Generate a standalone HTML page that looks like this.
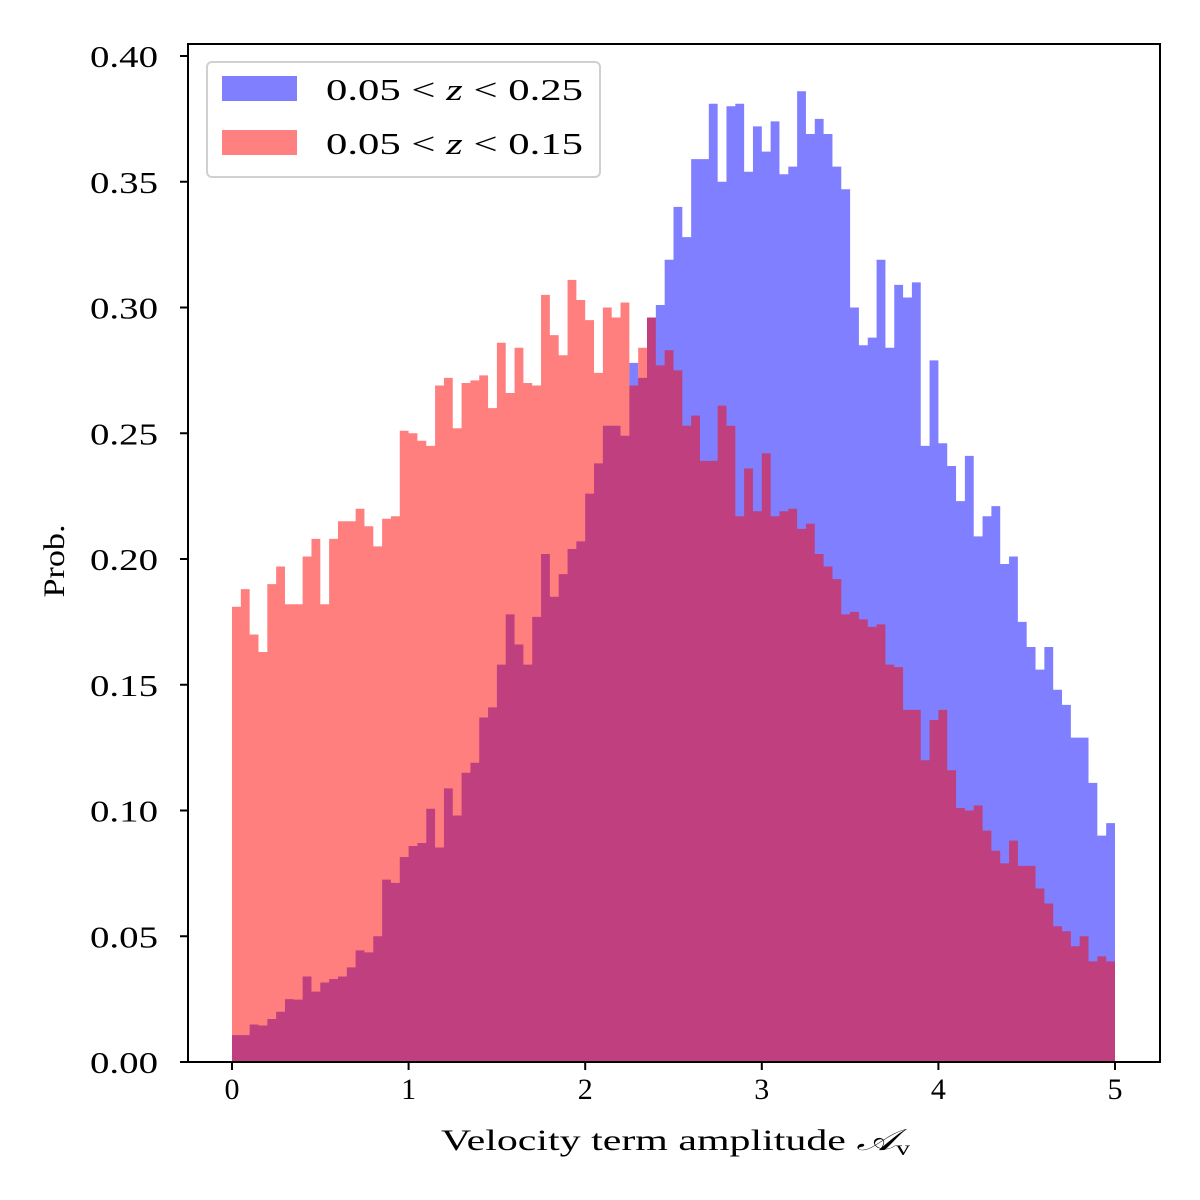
<!DOCTYPE html>
<html><head><meta charset="utf-8"><style>
body{margin:0;background:#fff;}
svg{display:block;font-family:"Liberation Serif","DejaVu Serif",serif;}
</style></head><body>
<svg id="chart" width="1200" height="1200" viewBox="0 0 1200 1200"></svg>
<script>
const binEdges0 = 0, binWidth = 0.05;
const blueValues = [0.0107,0.0107,0.0149,0.0145,0.0171,0.020,0.025,0.0248,0.034,0.028,0.0316,0.033,0.034,0.0376,0.0444,0.0436,0.050,0.0725,0.0712,0.0815,0.0859,0.0871,0.1007,0.0853,0.1088,0.098,0.115,0.119,0.137,0.141,0.158,0.178,0.166,0.158,0.177,0.202,0.185,0.194,0.204,0.207,0.226,0.238,0.253,0.253,0.249,0.278,0.272,0.296,0.301,0.319,0.340,0.328,0.359,0.359,0.381,0.350,0.380,0.381,0.354,0.372,0.362,0.374,0.353,0.356,0.386,0.369,0.375,0.369,0.356,0.347,0.300,0.285,0.288,0.319,0.284,0.309,0.304,0.310,0.245,0.279,0.246,0.237,0.223,0.241,0.209,0.217,0.221,0.198,0.201,0.175,0.165,0.156,0.165,0.148,0.142,0.129,0.129,0.111,0.090,0.095];
const redValues = [0.181,0.188,0.170,0.163,0.190,0.197,0.182,0.182,0.201,0.208,0.182,0.208,0.215,0.215,0.220,0.213,0.205,0.216,0.217,0.251,0.250,0.247,0.245,0.269,0.272,0.252,0.270,0.271,0.273,0.260,0.286,0.266,0.284,0.270,0.269,0.305,0.289,0.281,0.311,0.303,0.295,0.274,0.300,0.296,0.302,0.269,0.284,0.296,0.277,0.283,0.275,0.253,0.257,0.239,0.239,0.261,0.253,0.217,0.236,0.219,0.242,0.217,0.219,0.220,0.212,0.214,0.202,0.197,0.192,0.178,0.179,0.176,0.173,0.174,0.158,0.157,0.140,0.140,0.120,0.136,0.140,0.116,0.101,0.100,0.102,0.092,0.084,0.079,0.088,0.078,0.078,0.069,0.063,0.054,0.052,0.046,0.050,0.040,0.042,0.040];
const xTicks = [0,1,2,3,4,5];
const yTicks = [0,0.05,0.10,0.15,0.20,0.25,0.30,0.35,0.40];
const yTickLabels = ["0.00","0.05","0.10","0.15","0.20","0.25","0.30","0.35","0.40"];

const NS = "http://www.w3.org/2000/svg";
const svg = document.getElementById('chart');
const X0 = 232, X5 = 1115, Y0 = 1062, Y40 = 56;
const xs = v => X0 + (X5 - X0) * v / 5;
const ys = v => Y0 - (Y0 - Y40) * v / 0.4;
function mk(tag, attrs, parent){const e=document.createElementNS(NS,tag);for(const k in attrs)e.setAttribute(k,attrs[k]);(parent||svg).appendChild(e);return e;}

function histPath(vals){
  let d = 'M' + xs(binEdges0) + ' ' + Y0;
  vals.forEach((v,i)=>{
    const x1=xs(binEdges0+i*binWidth), x2=xs(binEdges0+(i+1)*binWidth);
    d += ' L' + x1 + ' ' + ys(v) + ' L' + x2 + ' ' + ys(v);
  });
  d += ' L' + xs(binEdges0+vals.length*binWidth) + ' ' + Y0 + ' Z';
  return d;
}
const pBlue = mk('path',{d:histPath(blueValues),fill:'#0000ff','fill-opacity':0.5});


const pRed = mk('path',{d:histPath(redValues),fill:'#ff0000','fill-opacity':0.5});



const frame = mk('rect',{x:188,y:44,width:972,height:1018,fill:'none',stroke:'#000','stroke-width':2});



xTicks.forEach(t=>{
  const l=mk('line',{x1:xs(t),x2:xs(t),y1:1062,y2:1070,stroke:'#000','stroke-width':2});
  
  
  const tx=mk('text',{x:xs(t),y:1099,'text-anchor':'middle','font-size':30});
  tx.textContent=String(t);
  
  
});
yTicks.forEach((t,i)=>{
  const l=mk('line',{x1:180,x2:188,y1:ys(t),y2:ys(t),stroke:'#000','stroke-width':2});
  
  
  const tx=mk('text',{x:158,y:ys(t)+11,'text-anchor':'end','font-size':31,textLength:68,lengthAdjust:'spacingAndGlyphs'});
  tx.textContent=yTickLabels[i];
  
  
});
</script>
<svg width="1200" height="1200" style="position:absolute;left:0;top:0;font-family:'Liberation Serif','DejaVu Serif',serif;">
  <text x="441" y="1150" font-size="30" textLength="469" lengthAdjust="spacingAndGlyphs">Velocity term amplitude <tspan font-style="italic" font-family="'DejaVu Serif',serif">𝒜</tspan><tspan font-size="20" dy="5">v</tspan></text>
  <text transform="translate(64,561) rotate(-90)" text-anchor="middle" font-size="30" textLength="73" lengthAdjust="spacingAndGlyphs">Prob.</text>
  <g>
    <rect x="207" y="62" width="393" height="115" rx="5" fill="#fff" fill-opacity="0.8" stroke="#d0d0d0" stroke-width="2"/>
    <rect x="222" y="76" width="75" height="25" fill="#8080ff"/>
    <text x="326" y="100" font-size="31" textLength="257" lengthAdjust="spacingAndGlyphs">0.05 &lt; <tspan font-style="italic">z</tspan> &lt; 0.25</text>
    <rect x="222" y="130" width="75" height="25" fill="#ff8080"/>
    <text x="326" y="154" font-size="31" textLength="257" lengthAdjust="spacingAndGlyphs">0.05 &lt; <tspan font-style="italic">z</tspan> &lt; 0.15</text>
  </g>
</svg>
</body></html>
